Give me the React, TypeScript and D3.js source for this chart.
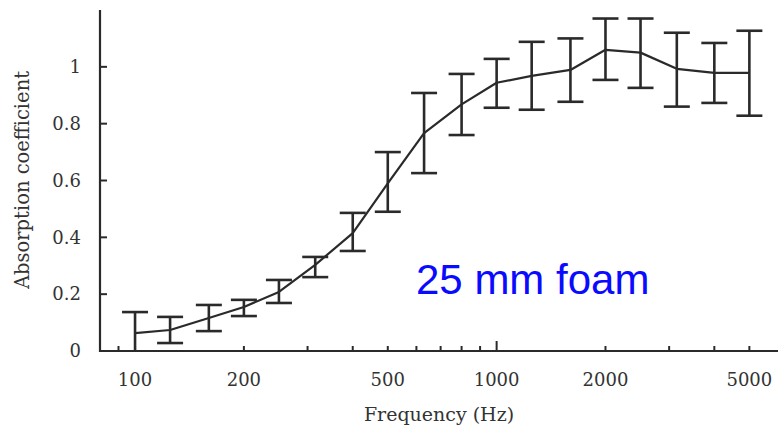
import { useEffect, useRef } from 'react'
import * as d3 from 'd3';

// 1/3-octave band centres (Hz)
const freqs = [100, 125, 160, 200, 250, 315, 400, 500, 630, 800, 1000, 1250, 1600, 2000, 2500, 3150, 4000, 5000];
// mean absorption coefficient
const meanVals = [0.063, 0.074, 0.116, 0.155, 0.208, 0.303, 0.415, 0.59, 0.767, 0.868, 0.944, 0.968, 0.989, 1.06, 1.05, 0.993, 0.979, 0.979];
// error bar limits
const upperVals = [0.137, 0.12, 0.162, 0.18, 0.25, 0.331, 0.486, 0.70, 0.908, 0.975, 1.028, 1.088, 1.10, 1.17, 1.17, 1.12, 1.084, 1.127];
const lowerVals = [0, 0.028, 0.07, 0.123, 0.169, 0.26, 0.352, 0.49, 0.626, 0.76, 0.856, 0.849, 0.877, 0.954, 0.926, 0.86, 0.873, 0.828];

const xTickLabels = [100, 200, 500, 1000, 2000, 5000];
const xMinorTicks = [90, 100, 200, 300, 400, 500, 600, 700, 800, 900, 2000, 3000, 4000, 5000];
const xMajorTicks = [1000];
const yTicks = [0, 0.2, 0.4, 0.6, 0.8, 1];

const App = () => {
  const canvas = useRef<SVGSVGElement | null>(null);

  useEffect(() => {
    const width = 778;
    const svg = d3.select(canvas.current);
    svg.selectAll('*').remove();

    const ink = '#2a2a2a';
    const textInk = '#333';
    const serif = "'DejaVu Serif', serif";

    const x = d3.scaleLog().domain([80, 6000]).range([100, 778]);
    const y = d3.scaleLinear().domain([0, 1.2]).range([351, 10]);

    const data = freqs.map((f, i) => ({ f, m: meanVals[i], hi: upperVals[i], lo: lowerVals[i] }));

    // axes lines
    svg.append('line')
      .attr('x1', x(80)).attr('x2', x(80))
      .attr('y1', y(1.2)).attr('y2', y(0) + 1)
      .attr('stroke', ink).attr('stroke-width', 2.2);
    svg.append('line')
      .attr('x1', x(80) - 1).attr('x2', width)
      .attr('y1', y(0)).attr('y2', y(0))
      .attr('stroke', ink).attr('stroke-width', 2.2);

    // y ticks (inside)
    svg.append('g').selectAll('line').data(yTicks).join('line')
      .attr('x1', x(80)).attr('x2', x(80) + 7)
      .attr('y1', (d) => y(d)).attr('y2', (d) => y(d))
      .attr('stroke', ink).attr('stroke-width', 2);
    svg.append('g').selectAll('text').data(yTicks).join('text')
      .attr('x', 81).attr('y', (d) => y(d))
      .attr('dy', '0.35em')
      .attr('text-anchor', 'end')
      .attr('font-family', serif).attr('font-size', 18)
      .attr('fill', textInk)
      .text((d) => (d === 0 || d === 1 ? String(d) : d.toFixed(1)));

    // x ticks (inside)
    svg.append('g').selectAll('line').data(xMinorTicks).join('line')
      .attr('x1', (d) => x(d)).attr('x2', (d) => x(d))
      .attr('y1', y(0)).attr('y2', y(0) - 5)
      .attr('stroke', ink).attr('stroke-width', 2);
    svg.append('g').selectAll('line').data(xMajorTicks).join('line')
      .attr('x1', (d) => x(d)).attr('x2', (d) => x(d))
      .attr('y1', y(0)).attr('y2', y(0) - 10)
      .attr('stroke', ink).attr('stroke-width', 2);
    svg.append('g').selectAll('text').data(xTickLabels).join('text')
      .attr('x', (d) => x(d)).attr('y', 386)
      .attr('text-anchor', 'middle')
      .attr('font-family', serif).attr('font-size', 18)
      .attr('fill', textInk)
      .text((d) => String(d));

    // axis titles
    svg.append('text')
      .attr('x', 439).attr('y', 421)
      .attr('text-anchor', 'middle')
      .attr('font-family', serif).attr('font-size', 19)
      .attr('fill', textInk)
      .text('Frequency (Hz)');
    svg.append('text')
      .attr('transform', 'translate(29,180) rotate(-90)')
      .attr('text-anchor', 'middle')
      .attr('font-family', serif).attr('font-size', 19.5)
      .attr('fill', textInk)
      .text('Absorption coefficient');

    // error bars
    const cap = 13;
    const eb = svg.append('g').attr('stroke', ink).attr('stroke-width', 2.6);
    eb.selectAll('line.v').data(data).join('line').attr('class', 'v')
      .attr('x1', (d) => x(d.f)).attr('x2', (d) => x(d.f))
      .attr('y1', (d) => y(d.hi)).attr('y2', (d) => y(d.lo));
    eb.selectAll('line.t').data(data).join('line').attr('class', 't')
      .attr('x1', (d) => x(d.f) - cap).attr('x2', (d) => x(d.f) + cap)
      .attr('y1', (d) => y(d.hi)).attr('y2', (d) => y(d.hi));
    eb.selectAll('line.b').data(data.filter((d) => d.lo > 0)).join('line').attr('class', 'b')
      .attr('x1', (d) => x(d.f) - cap).attr('x2', (d) => x(d.f) + cap)
      .attr('y1', (d) => y(d.lo)).attr('y2', (d) => y(d.lo));

    // mean curve
    const line = d3.line<any>()
      .x((d) => x(d.f))
      .y((d) => y(d.m));
    svg.append('path')
      .datum(data)
      .attr('d', line)
      .attr('fill', 'none')
      .attr('stroke', ink)
      .attr('stroke-width', 2.2)
      .attr('stroke-linejoin', 'round');

    // annotation
    svg.append('text')
      .attr('x', 416).attr('y', 294)
      .attr('font-family', "'Liberation Sans', Arial, sans-serif")
      .attr('font-size', 42)
      .attr('fill', '#0a0aff')
      .text('25 mm foam');
  }, []);

  return (
    <div style={{ position: 'absolute', left: 0, top: 0, background: '#fff' }}>
      <svg ref={canvas} width={778} height={430} viewBox="0 0 778 430" style={{ display: 'block' }} />
    </div>
  );
}

export default App;
